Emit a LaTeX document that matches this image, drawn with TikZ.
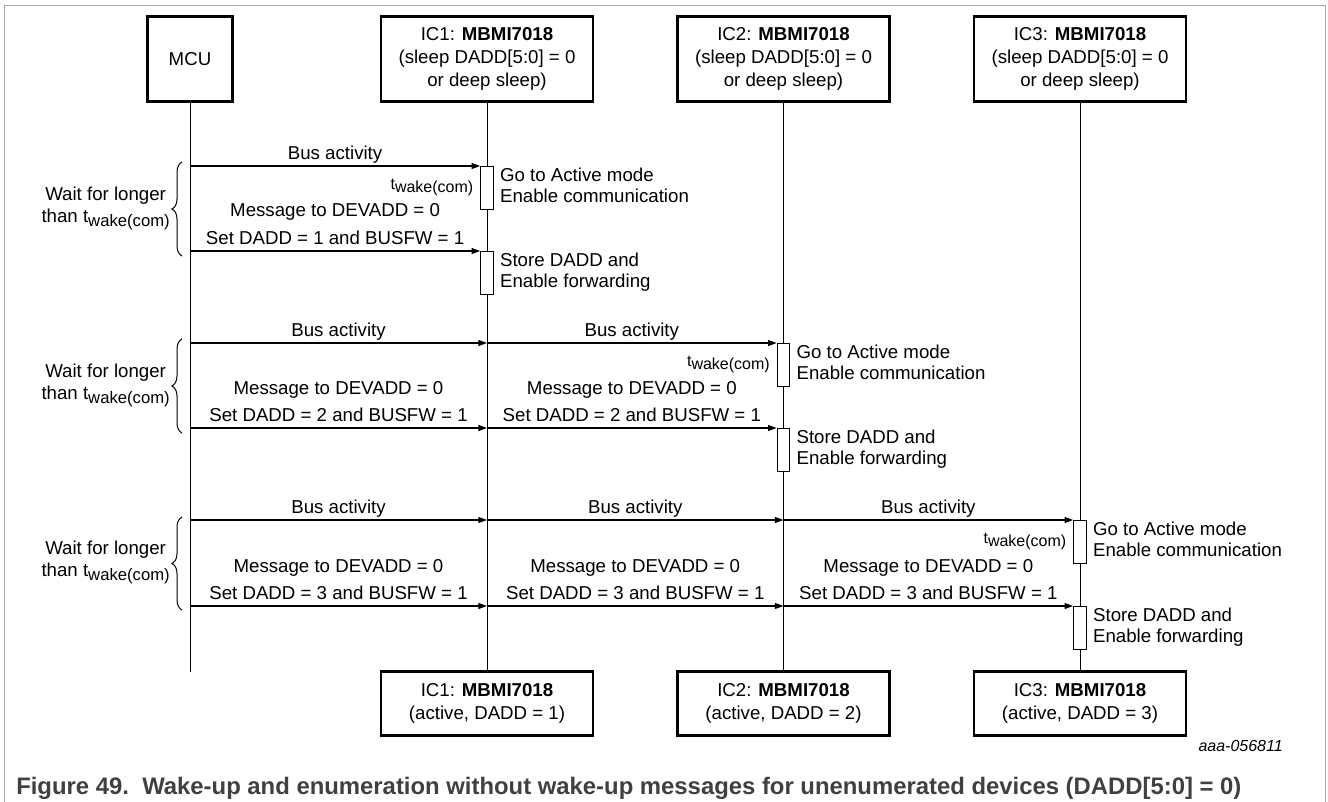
\documentclass[tikz,border=0pt]{standalone}
\usepackage{fontspec}
\setmainfont{Liberation Sans}
\usetikzlibrary{arrows.meta,decorations.pathreplacing,positioning}
\newcommand\twakelbl{t\raisebox{-2.5pt}{wake(com)}}
\newcommand\twakesub{t\raisebox{-3pt}{\fontsize{12.5}{14}\selectfont wake(com)}}
\tikzset{
  chip/.style={
    draw,
    line width = 2pt,
    align = center,
    inner sep = 0pt,
    minimum width = 159pt,
    minimum height = 63.5pt
  },
  mcubox/.style={
    chip,
    minimum width = 63.5pt
  },
  chipend/.style={
    chip,
    minimum height = 48pt
  },
  life/.style={
    line width = 0.75pt
  },
  act/.style={
    draw,
    fill = white,
    line width = 0.75pt,
    inner sep = 0pt,
    minimum width = 9.5pt,
    minimum height = 32pt,
    anchor = north
  },
  msg/.style={
    line width = 0.8pt,
    -{Triangle[length=6.5pt,width=4.5pt]}
  },
  lbl/.style={
    anchor = base,
    inner sep = 0pt,
    yshift = 5pt
  },
  lbltop/.style={
    anchor = base,
    inner sep = 0pt,
    yshift = 25.5pt
  },
  note/.style={
    anchor = north west,
    align = left,
    inner sep = 0pt,
    font = \fontsize{14}{15.75}\selectfont
  },
  twk/.style={
    anchor = east,
    inner sep = 0pt,
    font = \fontsize{12}{14}\selectfont
  },
  wait/.style={
    anchor = east,
    align = center,
    inner sep = 0pt,
    font = \fontsize{14}{16.5}\selectfont
  },
  wbrace/.style={
    decorate,
    decoration = {brace, amplitude=7.5pt},
    line width = 0.75pt
  },
  frame/.style={
    draw = black!35,
    line width = 0.75pt
  }
}

\begin{document}
\begin{tikzpicture}[x=0.75pt, y=-0.75pt, font=\fontsize{14}{17}\selectfont]
    \useasboundingbox (0,0) rectangle (1328,802);
    \draw[frame] (4,802) -- (4,6) -- (1325,6) -- (1325,802);

    % participants
    \node[mcubox] (mcu) at (190,59) {MCU};
    \node[chip] (ic1) at (487,59) {IC1: \textbf{MBMI7018}\\(sleep DADD[5:0] = 0\\or deep sleep)};
    \node[chip] (ic2) at (783.5,59) {IC2: \textbf{MBMI7018}\\(sleep DADD[5:0] = 0\\or deep sleep)};
    \node[chip] (ic3) at (1080,59) {IC3: \textbf{MBMI7018}\\(sleep DADD[5:0] = 0\\or deep sleep)};
    \node[chipend] (ic1e) at (487,703.5) {IC1: \textbf{MBMI7018}\\(active, DADD = 1)};
    \node[chipend] (ic2e) at (783.5,703.5) {IC2: \textbf{MBMI7018}\\(active, DADD = 2)};
    \node[chipend] (ic3e) at (1080,703.5) {IC3: \textbf{MBMI7018}\\(active, DADD = 3)};

    \coordinate (mcuend) at (190,672);
    \draw[life] (mcu) -- (mcuend);
    \draw[life] (ic1) -- (ic1e);
    \draw[life] (ic2) -- (ic2e);
    \draw[life] (ic3) -- (ic3e);

    \coordinate (m1) at (190,166);
    \coordinate (m2) at (190,251);
    \coordinate (m3) at (190,343);
    \coordinate (m4) at (190,428);
    \coordinate (m5) at (190,520);
    \coordinate (m6) at (190,606);

    % IC1 wakes up
    \node[act] (a1) at (ic1 |- m1) {};
    \node[act] (a2) at (ic1 |- m2) {};
    \draw[msg] (m1) -- node[lbl] {Bus activity} (a1.north west);
    \draw[msg] (m2) -- node[lbl] {Set DADD = 1 and BUSFW = 1} node[lbltop] {Message to DEVADD = 0} (a2.north west);
    \node[twk] (t1) at ([xshift=-5pt,yshift=-16pt]a1.north west) {\twakelbl};
    \node[note] (n1) at ([xshift=4.5pt,yshift=-1pt]a1.north east) {Go to Active mode\\Enable communication};
    \node[note] (n2) at ([xshift=4.5pt,yshift=-1pt]a2.north east) {Store DADD and\\Enable forwarding};
    \draw[wbrace] (182,256) -- (182,162);
    \node[wait] (w1) at (170,208) {Wait for longer\\than \twakesub};

    % IC2 wakes up
    \coordinate (p3) at (ic1 |- m3);
    \coordinate (p4) at (ic1 |- m4);
    \node[act] (b1) at (ic2 |- m3) {};
    \node[act] (b2) at (ic2 |- m4) {};
    \draw[msg] (m3) -- node[lbl] {Bus activity} (p3);
    \draw[msg] (p3) -- node[lbl] {Bus activity} (b1.north west);
    \draw[msg] (m4) -- node[lbl] {Set DADD = 2 and BUSFW = 1} node[lbltop] {Message to DEVADD = 0} (p4);
    \draw[msg] (p4) -- node[lbl] {Set DADD = 2 and BUSFW = 1} node[lbltop] {Message to DEVADD = 0} (b2.north west);
    \node[twk] (t2) at ([xshift=-5pt,yshift=-16pt]b1.north west) {\twakelbl};
    \node[note] (n3) at ([xshift=4.5pt,yshift=-1pt]b1.north east) {Go to Active mode\\Enable communication};
    \node[note] (n4) at ([xshift=4.5pt,yshift=-1pt]b2.north east) {Store DADD and\\Enable forwarding};
    \draw[wbrace] (182,433) -- (182,339);
    \node[wait] (w2) at (170,385) {Wait for longer\\than \twakesub};

    % IC3 wakes up
    \coordinate (p5) at (ic1 |- m5);
    \coordinate (p6) at (ic1 |- m6);
    \coordinate (q5) at (ic2 |- m5);
    \coordinate (q6) at (ic2 |- m6);
    \node[act] (c1) at (ic3 |- m5) {};
    \node[act] (c2) at (ic3 |- m6) {};
    \draw[msg] (m5) -- node[lbl] {Bus activity} (p5);
    \draw[msg] (p5) -- node[lbl] {Bus activity} (q5);
    \draw[msg] (q5) -- node[lbl] {Bus activity} (c1.north west);
    \draw[msg] (m6) -- node[lbl] {Set DADD = 3 and BUSFW = 1} node[lbltop] {Message to DEVADD = 0} (p6);
    \draw[msg] (p6) -- node[lbl] {Set DADD = 3 and BUSFW = 1} node[lbltop] {Message to DEVADD = 0} (q6);
    \draw[msg] (q6) -- node[lbl] {Set DADD = 3 and BUSFW = 1} node[lbltop] {Message to DEVADD = 0} (c2.north west);
    \node[twk] (t3) at ([xshift=-5pt,yshift=-16pt]c1.north west) {\twakelbl};
    \node[note] (n5) at ([xshift=4.5pt,yshift=-1pt]c1.north east) {Go to Active mode\\Enable communication};
    \node[note] (n6) at ([xshift=4.5pt,yshift=-1pt]c2.north east) {Store DADD and\\Enable forwarding};
    \draw[wbrace] (182,610) -- (182,517);
    \node[wait] (w3) at (170,562) {Wait for longer\\than \twakesub};

    \node[anchor=east, inner sep=0pt, font=\fontsize{12}{14}\selectfont\itshape] (code) at (1283,746) {aaa-056811};
    \node[anchor=west, inner sep=0pt, text=black!75, font=\fontsize{17.9}{20}\selectfont\bfseries] (cap) at (16,788) {Figure 49.~~Wake-up and enumeration without wake-up messages for unenumerated devices (DADD[5:0] = 0)};
\end{tikzpicture}
\end{document}
